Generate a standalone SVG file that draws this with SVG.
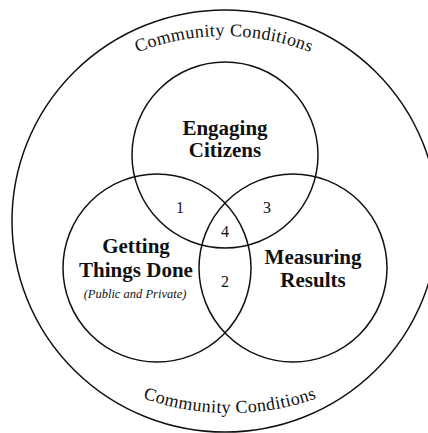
<svg xmlns="http://www.w3.org/2000/svg" width="428" height="433" viewBox="0 0 428 433">
<style>
.c{fill:none;stroke:#111;stroke-width:1.5}
.t{fill:#111;text-anchor:middle;font-family:"Liberation Serif","Times New Roman",Tinos,"Noto Serif","DejaVu Serif",FreeSerif,Georgia,serif}
.b{font-weight:bold;font-size:21px}
.n{font-size:16px}
.cc{font-size:18px;letter-spacing:0.4px}
.i{font-style:italic;font-size:12.5px}
</style>
<defs>
<path id="arcTop" d="M -12,272 A 236 236 0 0 1 460,272"/>
<path id="arcBot" d="M -35,148 A 265 265 0 0 0 495,148"/>
</defs>
<rect width="428" height="433" fill="#fff"/>
<g id="community">
<ellipse class="c" cx="225" cy="221" rx="213" ry="211"/>
<text class="t cc"><textPath href="#arcTop" startOffset="50%">Community Conditions</textPath></text>
<text class="t cc"><textPath href="#arcBot" startOffset="50%">Community Conditions</textPath></text>
</g>
<g id="engaging">
<circle class="c" cx="225" cy="155" r="93"/>
<text class="t b" x="225" y="135">Engaging</text>
<text class="t b" x="225" y="157">Citizens</text>
</g>
<g id="getting">
<circle class="c" cx="157" cy="268" r="94"/>
<text class="t b" x="136" y="253">Getting</text>
<text class="t b" x="136" y="277">Things Done</text>
<text class="t i" x="135" y="298">(Public and Private)</text>
</g>
<g id="measuring">
<circle class="c" cx="293" cy="268" r="94"/>
<text class="t b" x="313" y="264">Measuring</text>
<text class="t b" x="313" y="287">Results</text>
</g>
<g id="overlaps">
<text class="t n" x="180" y="213">1</text>
<text class="t n" x="225" y="287">2</text>
<text class="t n" x="267" y="213">3</text>
<text class="t n" x="225" y="237">4</text>
</g>
<g id="connectors"></g>
</svg>
